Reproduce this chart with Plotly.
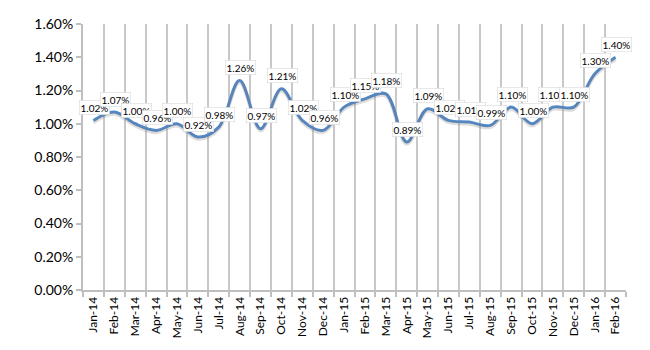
import plotly.graph_objects as go

months = ["Jan-14","Feb-14","Mar-14","Apr-14","May-14","Jun-14","Jul-14","Aug-14","Sep-14","Oct-14",
          "Nov-14","Dec-14","Jan-15","Feb-15","Mar-15","Apr-15","May-15","Jun-15","Jul-15","Aug-15",
          "Sep-15","Oct-15","Nov-15","Dec-15","Jan-16","Feb-16"]
values = [1.02,1.07,1.00,0.96,1.00,0.92,0.98,1.26,0.97,1.21,
          1.02,0.96,1.10,1.15,1.18,0.89,1.09,1.02,1.01,0.99,
          1.10,1.00,1.10,1.10,1.30,1.40]
ytick_vals = [0,0.2,0.4,0.6,0.8,1.0,1.2,1.4,1.6]
ytick_text = ["0.00%","0.20%","0.40%","0.60%","0.80%","1.00%","1.20%","1.40%","1.60%"]

FONT = "Lato"
fig = go.Figure()
# soft shadow of the line (same data on a slightly shifted overlay axis)
fig.add_trace(go.Scatter(x=months, y=values, mode="lines", yaxis="y2",
                         line=dict(color="rgba(120,120,120,0.25)", width=3.5, shape="spline", smoothing=1.0),
                         hoverinfo="skip", showlegend=False))
fig.add_trace(go.Scatter(x=months, y=values, mode="lines",
                         line=dict(color="#5288c8", width=3, shape="spline", smoothing=1.0),
                         showlegend=False))

for m, v in zip(months, values):
    fig.add_annotation(x=m, y=v, text=f"{v:.2f}%", showarrow=False, yshift=13, xshift=1,
                       font=dict(family=FONT, size=10, color="black"),
                       bgcolor="white", bordercolor="rgba(190,190,190,0.7)", borderwidth=0.5, borderpad=1)

fig.update_layout(
    width=650, height=350,
    margin=dict(l=83, r=24, t=24, b=57),
    paper_bgcolor="white", plot_bgcolor="white",
    xaxis=dict(type="category", tickson="boundaries", showgrid=True, gridcolor="#c8c8c8", gridwidth=1.5,
               showline=True, linecolor="#bfbfbf", linewidth=2, ticks="outside", ticklen=5, tickcolor="#bfbfbf",
               tickwidth=1.5, tickangle=-90, tickfont=dict(family=FONT, size=12, color="black"),
               range=[-0.5, 25.5]),
    yaxis=dict(range=[0, 1.6], tickvals=ytick_vals, ticktext=ytick_text, showgrid=False,
               showline=True, linecolor="#bfbfbf", linewidth=2, ticks="outside", ticklen=5,
               tickcolor="#bfbfbf", tickwidth=1.5, tickfont=dict(family=FONT, size=14, color="black"),
               zeroline=False),
    yaxis2=dict(range=[0.012, 1.612], overlaying="y", visible=False),
)
fig.write_html("out.html")
